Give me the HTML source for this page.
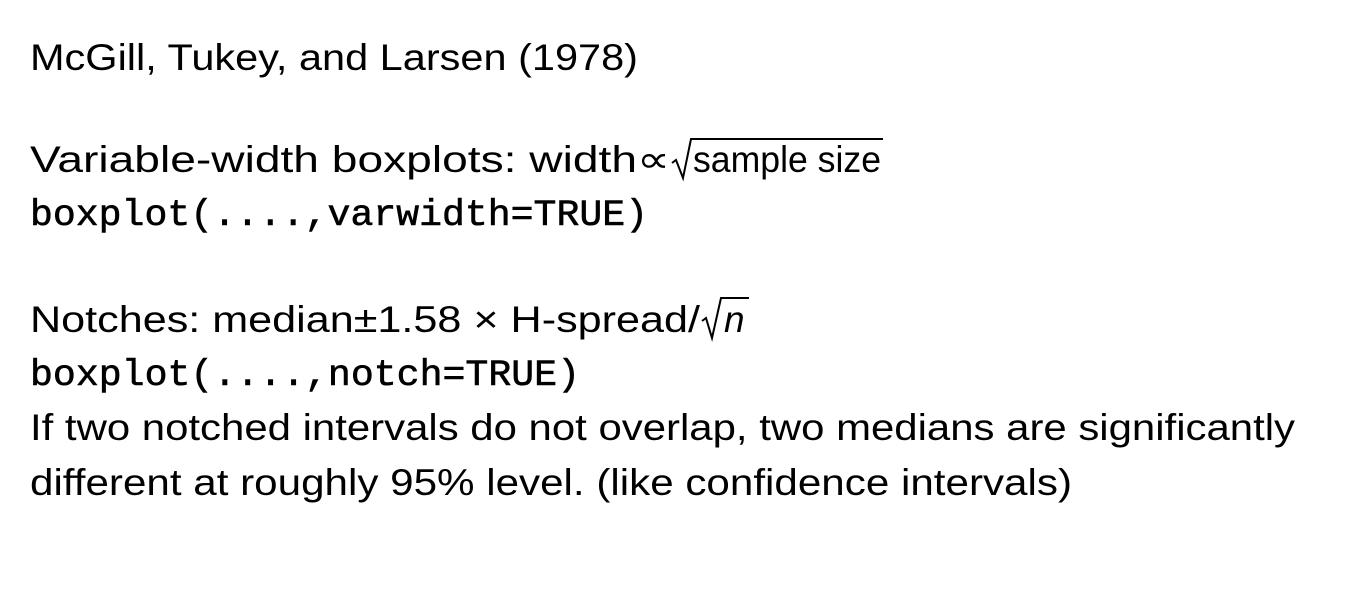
<!DOCTYPE html>
<html>
<head>
<meta charset="utf-8">
<style>
html,body{margin:0;padding:0;background:#fff;}
svg{display:block;}
.s{font-family:"Liberation Sans",sans-serif;font-size:37px;fill:#000;}
.m{font-family:"Liberation Mono",monospace;font-size:37px;fill:#000;stroke:#000;stroke-width:0.6;}
</style>
</head>
<body>
<svg width="1362" height="612" viewBox="0 0 1362 612">
<rect width="1362" height="612" fill="#fff"/>
<text class="s" x="30" y="70" textLength="608" lengthAdjust="spacingAndGlyphs">McGill, Tukey, and Larsen (1978)</text>

<g>
<text class="s" x="30" y="172" textLength="640" lengthAdjust="spacingAndGlyphs">Variable-width boxplots: width∝</text>
<polyline points="672,163 676,160 683,178 691,139 883,139" fill="none" stroke="#000" stroke-width="2"/>
<text class="s" x="693" y="172" textLength="188" lengthAdjust="spacingAndGlyphs">sample size</text>
</g>
<text class="m" x="30" y="225" textLength="618" lengthAdjust="spacingAndGlyphs">boxplot(....,varwidth=TRUE)</text>

<g>
<text class="s" x="30" y="332" textLength="670" lengthAdjust="spacingAndGlyphs">Notches: median±1.58 × H-spread/</text>
<polyline points="702,321 706,318 712,338 721,298 749,298" fill="none" stroke="#000" stroke-width="2"/>
<text class="s" x="724" y="332" font-style="italic">n</text>
</g>
<text class="m" x="30" y="385" textLength="550" lengthAdjust="spacingAndGlyphs">boxplot(....,notch=TRUE)</text>
<text class="s" x="30" y="440" textLength="1265" lengthAdjust="spacingAndGlyphs">If two notched intervals do not overlap, two medians are significantly</text>
<text class="s" x="30" y="495" textLength="1042" lengthAdjust="spacingAndGlyphs">different at roughly 95% level. (like confidence intervals)</text>
</svg>
</body>
</html>
